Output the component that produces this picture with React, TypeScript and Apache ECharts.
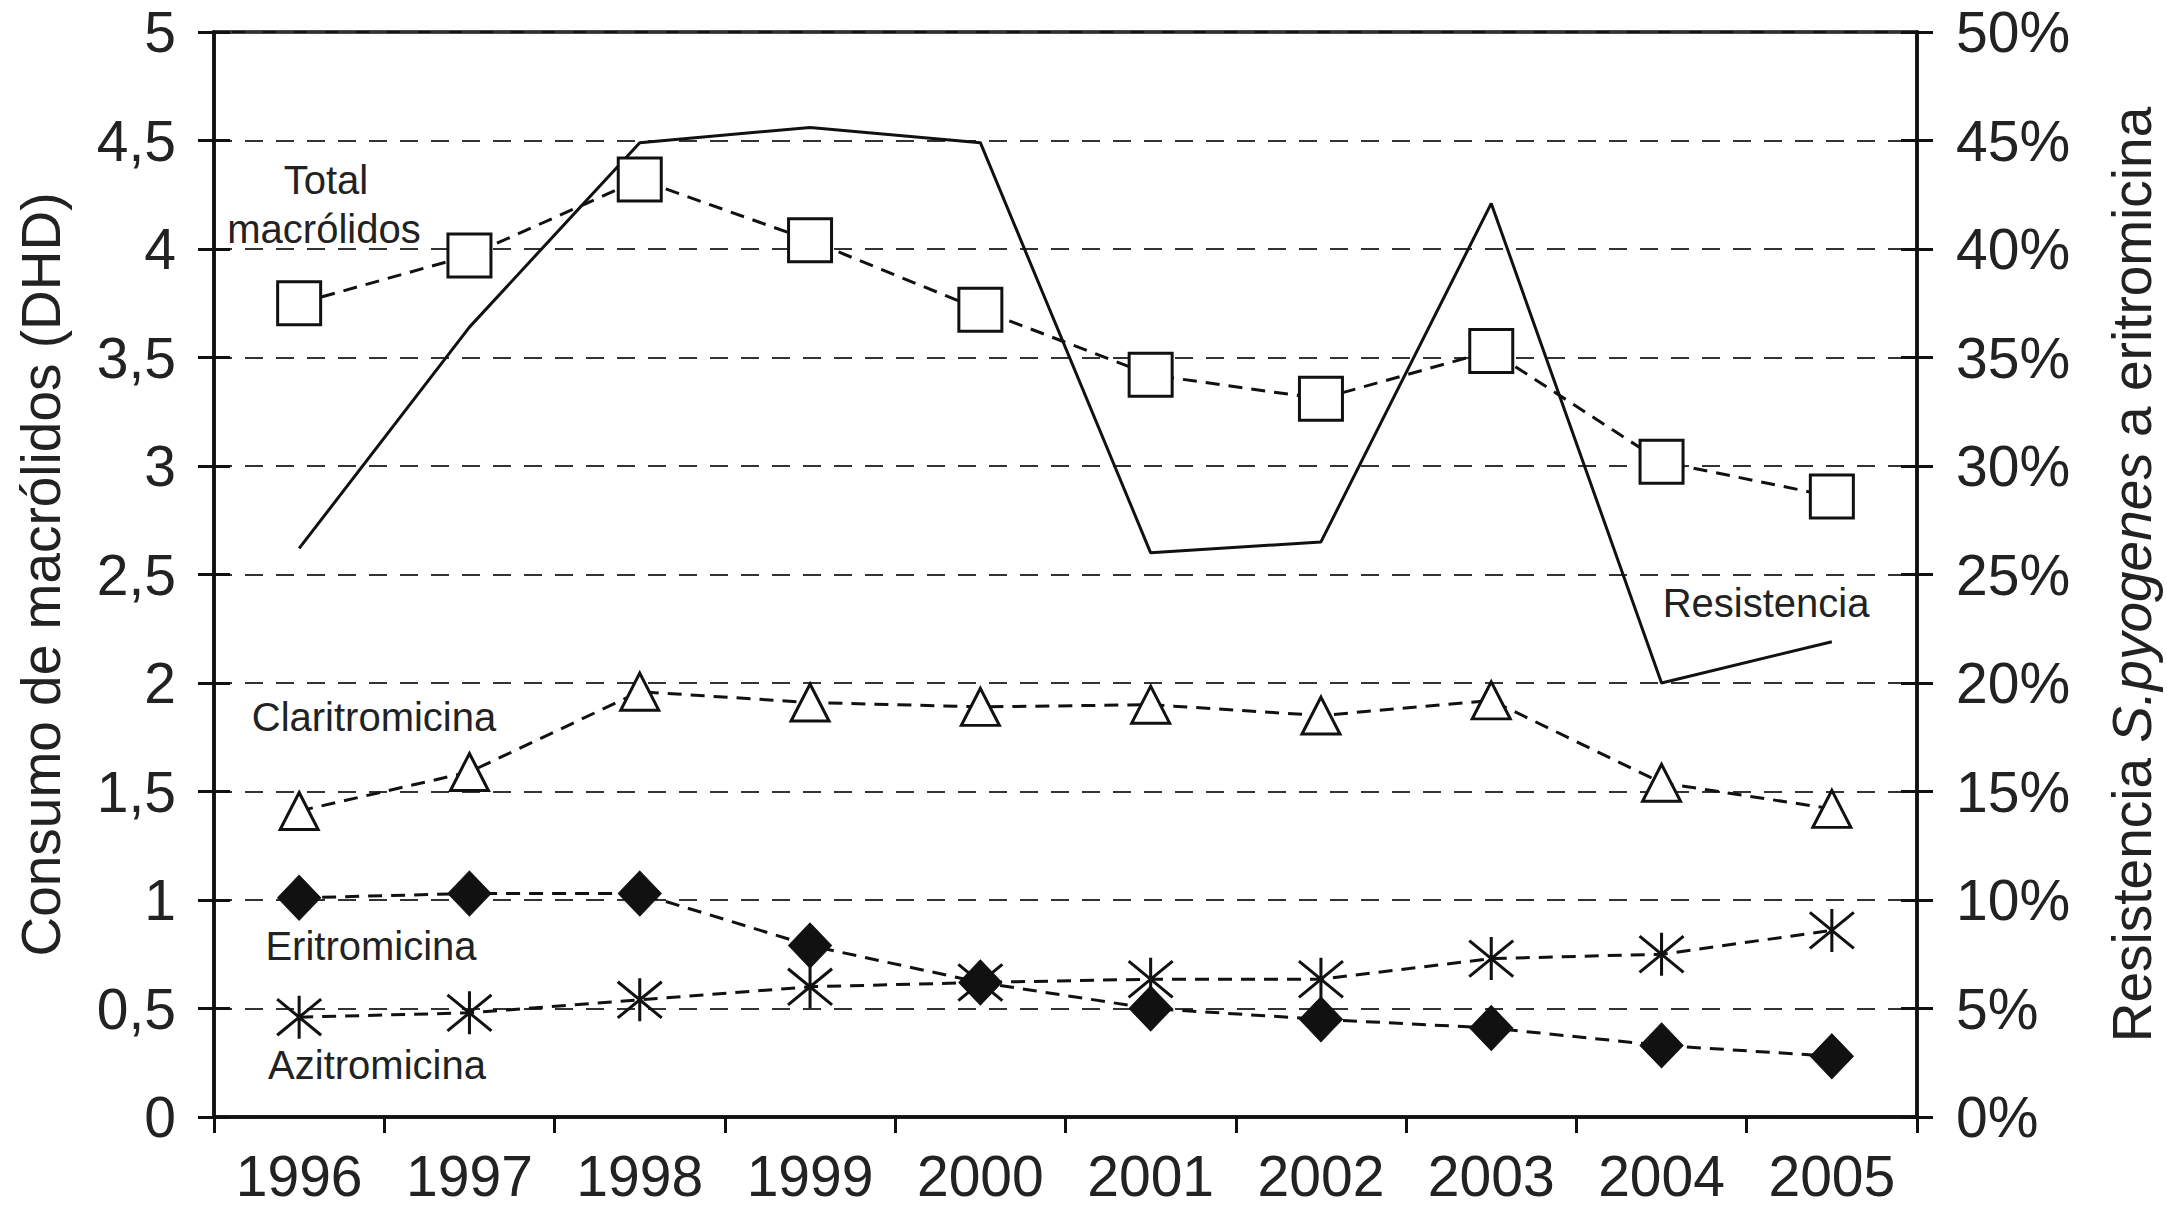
import React, { useEffect, useRef } from "react";
import * as echarts from "echarts";

const years = ["1996", "1997", "1998", "1999", "2000", "2001", "2002", "2003", "2004", "2005"];
const totalMacrolidos = [3.75, 3.97, 4.32, 4.04, 3.72, 3.42, 3.31, 3.53, 3.02, 2.86];
const claritromicina = [1.41, 1.59, 1.96, 1.91, 1.89, 1.9, 1.85, 1.92, 1.54, 1.42];
const eritromicina = [1.01, 1.03, 1.03, 0.79, 0.62, 0.5, 0.45, 0.41, 0.33, 0.28];
const azitromicina = [0.46, 0.48, 0.54, 0.6, 0.62, 0.635, 0.635, 0.73, 0.75, 0.86];
const resistencia = [26.2, 36.4, 44.9, 45.6, 44.9, 26.0, 26.5, 42.1, 20.0, 21.9];

const FONT = "'Liberation Sans', Arial, Helvetica, sans-serif";
const TXT = "#222";
const INK = "#111";
const ASTERISK = "path://M5,0L5,10M0,0.8L10,9.2M0,9.2L10,0.8";

export default function App() {
  const ref = useRef<HTMLDivElement>(null);

  useEffect(() => {
    if (!ref.current) return;
    const chart = echarts.init(ref.current, undefined, { renderer: "svg" });

    const dashed = { color: INK, width: 3, type: [14, 9] as any };

    const option: any = {
      animation: false,
      backgroundColor: "#fff",
      grid: {
        left: 214,
        right: 246,
        top: 32,
        bottom: 96,
        show: true,
        borderColor: INK,
        borderWidth: 3.5,
        backgroundColor: "transparent",
      },
      xAxis: {
        type: "category",
        data: years,
        boundaryGap: true,
        axisLine: { lineStyle: { color: INK, width: 3.5 } },
        axisTick: { show: true, length: 16, lineStyle: { color: INK, width: 3 } },
        axisLabel: { color: TXT, fontFamily: FONT, fontSize: 57, margin: 30 },
      },
      yAxis: [
        {
          type: "value",
          position: "left",
          min: 0,
          max: 5,
          interval: 0.5,
          name: "Consumo de macrólidos (DHD)",
          nameLocation: "middle",
          nameRotate: 90,
          nameGap: 146,
          nameTextStyle: { color: TXT, fontFamily: FONT, fontSize: 55 },
          axisLine: { show: true, lineStyle: { color: INK, width: 3.5 } },
          axisTick: { show: true, length: 16, lineStyle: { color: INK, width: 3 } },
          axisLabel: {
            color: TXT,
            fontFamily: FONT,
            fontSize: 57,
            margin: 38,
            formatter: (v: number) => String(v).replace(".", ","),
          },
          splitLine: { show: true, lineStyle: { color: "#333", width: 2, type: [18, 13] } },
        },
        {
          type: "value",
          position: "right",
          min: 0,
          max: 50,
          interval: 5,
          name: "{n|Resistencia }{i|S.pyogenes}{n| a eritromicina}",
          nameLocation: "middle",
          nameRotate: 90,
          nameGap: 187,
          nameTextStyle: {
            color: TXT,
            fontFamily: FONT,
            fontSize: 55,
            rich: {
              n: { color: TXT, fontFamily: FONT, fontSize: 55 },
              i: { color: TXT, fontFamily: FONT, fontSize: 55, fontStyle: "italic" },
            },
          },
          axisLine: { show: true, lineStyle: { color: INK, width: 3.5 } },
          axisTick: { show: true, length: 16, lineStyle: { color: INK, width: 3 } },
          axisLabel: {
            color: TXT,
            fontFamily: FONT,
            fontSize: 57,
            margin: 39,
            formatter: "{value}%",
          },
          splitLine: { show: false },
        },
        {
          type: "value",
          position: "left",
          min: 0,
          max: 5,
          interval: 0.5,
          axisLine: { show: false },
          axisTick: { show: true, inside: true, length: 16, lineStyle: { color: INK, width: 3 } },
          axisLabel: { show: false },
          splitLine: { show: false },
        },
        {
          type: "value",
          position: "right",
          min: 0,
          max: 50,
          interval: 5,
          axisLine: { show: false },
          axisTick: { show: true, inside: true, length: 16, lineStyle: { color: INK, width: 3 } },
          axisLabel: { show: false },
          splitLine: { show: false },
        },
      ],
      series: [
        {
          name: "Resistencia",
          type: "line",
          yAxisIndex: 1,
          data: resistencia,
          symbol: "none",
          lineStyle: { color: INK, width: 3, type: "solid" },
          itemStyle: { color: INK },
          z: 2,
        },
        {
          name: "Total macrólidos",
          type: "line",
          data: totalMacrolidos,
          symbol: "rect",
          symbolSize: 43,
          lineStyle: dashed,
          itemStyle: { color: "#fff", borderColor: INK, borderWidth: 3 },
          z: 3,
        },
        {
          name: "Claritromicina",
          type: "line",
          data: claritromicina,
          symbol: "triangle",
          symbolSize: [38, 37],
          lineStyle: dashed,
          itemStyle: { color: "#fff", borderColor: INK, borderWidth: 3 },
          z: 3,
        },
        {
          name: "Azitromicina",
          type: "line",
          data: azitromicina,
          symbol: ASTERISK,
          symbolSize: [44, 43],
          lineStyle: dashed,
          itemStyle: { color: INK, borderColor: INK, borderWidth: 3 },
          z: 3,
        },
        {
          name: "Eritromicina",
          type: "line",
          data: eritromicina,
          symbol: "diamond",
          symbolSize: [43, 45],
          lineStyle: dashed,
          itemStyle: { color: INK, borderColor: INK, borderWidth: 1 },
          z: 4,
        },
      ],
      graphic: [
        { type: "text", x: 326, y: 180, style: { text: "Total", font: `40px ${FONT}`, fill: TXT, align: "center", verticalAlign: "middle" } },
        { type: "text", x: 324, y: 229, style: { text: "macrólidos", font: `40px ${FONT}`, fill: TXT, align: "center", verticalAlign: "middle" } },
        { type: "text", x: 374, y: 717, style: { text: "Claritromicina", font: `40px ${FONT}`, fill: TXT, align: "center", verticalAlign: "middle" } },
        { type: "text", x: 371, y: 946, style: { text: "Eritromicina", font: `40px ${FONT}`, fill: TXT, align: "center", verticalAlign: "middle" } },
        { type: "text", x: 377, y: 1065, style: { text: "Azitromicina", font: `40px ${FONT}`, fill: TXT, align: "center", verticalAlign: "middle" } },
        { type: "text", x: 1766, y: 603, style: { text: "Resistencia", font: `40px ${FONT}`, fill: TXT, align: "center", verticalAlign: "middle" } },
      ],
    };

    chart.setOption(option);
    return () => chart.dispose();
  }, []);

  return (
    <div
      ref={ref}
      style={{ position: "fixed", left: 0, top: 0, width: 2167, height: 1213, background: "#fff" }}
    />
  );
}
